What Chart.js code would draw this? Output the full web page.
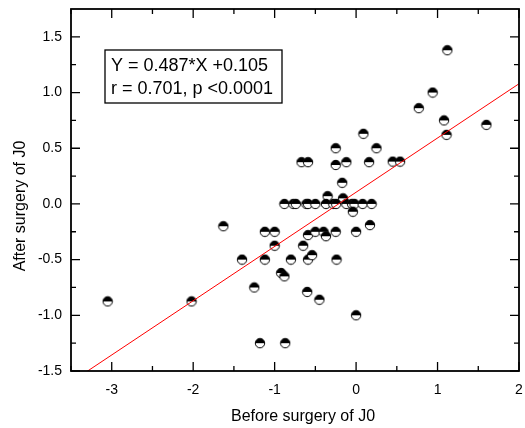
<!DOCTYPE html>
<html lang="en">
<head>
    <meta charset="UTF-8">
    <title>Before vs after surgery of J0</title>
    <script src="https://cdn.jsdelivr.net/npm/chart.js"></script>
    <style>
        body { margin: 0; background: #fff; }
        #chart { display: block; }
    </style>
</head>
<body>
<canvas id="chart" width="525" height="428"></canvas>

<script>
    // values
    const beforeJ0 = [
        1.12, 0.94, 0.77, 1.08, 1.11, 1.60, 0.09, -0.25, 0.25,
        -0.67, -0.59, -0.25, -0.12, 0.16, 0.45, 0.54,
        -0.17, -0.35, -0.16,
        -0.88, -0.77, -0.74, -0.61, -0.59, -0.50, -0.37, -0.28, -0.245, -0.12, -0.05, -0.02, 0.08, 0.19,
        -0.04, -1.63, 0.17,
        -1.12, -1.00, -0.59, -0.50, -0.40, -0.37, -0.25, 0.00,
        -1.00, -0.65,
        -1.40, -1.12, -0.80, -0.59, -0.54, -0.24,
        -0.92, -0.88, -1.25, -0.60, -0.45,
        -3.05, -2.02, 0.00, -1.18, -0.87
    ];
    const afterJ0 = [
        1.38, 1.00, 0.86, 0.75, 0.62, 0.71, 0.63, 0.50, 0.50,
        0.375, 0.375, 0.35, 0.375, 0.375, 0.38, 0.38,
        0.19, 0.07, 0.05,
        0, 0, 0, 0, 0, 0, 0, 0, 0, 0, 0, 0, 0, 0,
        -0.07, -0.20, -0.19,
        -0.25, -0.25, -0.28, -0.25, -0.25, -0.29, -0.25, -0.25,
        -0.375, -0.375,
        -0.50, -0.50, -0.50, -0.50, -0.46, -0.50,
        -0.62, -0.65, -0.75, -0.79, -0.86,
        -0.875, -0.875, -1.00, -1.25, -1.25
    ];
    const slope = 0.487;
    const intercept = 0.105;
    const fitLines = ["Y = 0.487*X +0.105", "r = 0.701, p <0.0001"];
    const xTitle = "Before surgery of J0";
    const yTitle = "After surgery of J0";

    const FONT = "'Liberation Sans', Arial, sans-serif";
    const X_MIN = -3.5, X_MAX = 2;
    const Y_MIN = -1.5, Y_MAX = 1.75;

    const points = beforeJ0.map((x, i) => ({ x: x, y: afterJ0[i] }));
    const fitPoints = [X_MIN, X_MAX].map(x => ({ x: x, y: slope * x + intercept }));

    // half filled circle marker
    function halfMarker() {
        const c = document.createElement("canvas");
        c.width = 12; c.height = 12;
        const g = c.getContext("2d");
        const r = 4.7;
        g.beginPath(); g.arc(6, 6, r, 0, Math.PI * 2);
        g.fillStyle = "#fff"; g.fill();
        g.beginPath(); g.arc(6, 6, r, Math.PI, Math.PI * 2); g.closePath();
        g.fillStyle = "#000"; g.fill();
        g.beginPath(); g.arc(6, 6, r, 0, Math.PI * 2);
        g.lineWidth = 1; g.strokeStyle = "#000"; g.stroke();
        return c;
    }

    // frame, inward ticks on all sides, fit box and axis titles
    const decor = {
        id: "decor",
        afterDatasetsDraw(chart) {
            const ctx = chart.ctx;
            const a = chart.chartArea;
            const xs = chart.scales.x, ys = chart.scales.y;
            ctx.save();
            ctx.strokeStyle = "#000";
            ctx.lineWidth = 1.8;
            ctx.strokeRect(a.left, a.top, a.right - a.left, a.bottom - a.top);

            ctx.lineWidth = 1.3;
            ctx.beginPath();
            for (let v = -3.5; v <= X_MAX + 1e-9; v += 0.5) {
                const px = xs.getPixelForValue(v);
                const len = Math.abs(v % 1) < 1e-9 ? 9 : 5;
                ctx.moveTo(px, a.bottom); ctx.lineTo(px, a.bottom - len);
                ctx.moveTo(px, a.top); ctx.lineTo(px, a.top + len);
            }
            for (let v = Y_MIN; v < Y_MAX - 1e-9; v += 0.25) {
                const py = ys.getPixelForValue(v);
                const len = Math.abs((v * 2) % 1) < 1e-9 ? 9 : 5;
                ctx.moveTo(a.left, py); ctx.lineTo(a.left + len, py);
                ctx.moveTo(a.right, py); ctx.lineTo(a.right - len, py);
            }
            ctx.stroke();

            // fit box
            ctx.fillStyle = "#fff";
            ctx.fillRect(105, 50, 177, 53);
            ctx.lineWidth = 1.3;
            ctx.strokeRect(105, 50, 177, 53);
            ctx.fillStyle = "#000";
            ctx.font = "18px " + FONT;
            ctx.textAlign = "left";
            ctx.textBaseline = "middle";
            ctx.fillText(fitLines[0], 111, 66);
            ctx.fillText(fitLines[1], 111, 89);

            // axis titles
            ctx.font = "16px " + FONT;
            ctx.textAlign = "center";
            ctx.fillText(xTitle, 303, 417);
            ctx.translate(21, 206);
            ctx.rotate(-Math.PI / 2);
            ctx.fillText(yTitle, 0, 0);
            ctx.restore();
        }
    };

    new Chart(document.getElementById("chart"), {
        type: "scatter",
        data: {
            datasets: [
                {
                    type: "line",
                    data: fitPoints,
                    borderColor: "#ff0000",
                    borderWidth: 1,
                    pointRadius: 0,
                    fill: false
                },
                {
                    data: points,
                    pointStyle: halfMarker(),
                    pointRadius: 5
                }
            ]
        },
        options: {
            responsive: false,
            animation: false,
            events: [],
            layout: { padding: { top: 9, right: 4, left: 0, bottom: 0 } },
            plugins: { legend: { display: false }, tooltip: { enabled: false } },
            scales: {
                x: {
                    type: "linear",
                    min: X_MIN, max: X_MAX,
                    grid: { display: false, drawTicks: false },
                    border: { display: false },
                    ticks: {
                        stepSize: 1, includeBounds: false, padding: 11,
                        color: "#000", font: { family: FONT, size: 14 },
                        callback: v => String(v)
                    },
                    afterFit: s => { s.height = 57; s.paddingLeft = 0; s.paddingRight = 0; }
                },
                y: {
                    type: "linear",
                    min: Y_MIN, max: Y_MAX,
                    grid: { display: false, drawTicks: false },
                    border: { display: false },
                    ticks: {
                        stepSize: 0.5, includeBounds: false, padding: 9,
                        color: "#000", font: { family: FONT, size: 14 },
                        callback: v => v.toFixed(1)
                    },
                    afterFit: s => { s.width = 71; s.paddingTop = 0; s.paddingBottom = 0; }
                }
            }
        },
        plugins: [decor]
    });
</script>
</body>
</html>
